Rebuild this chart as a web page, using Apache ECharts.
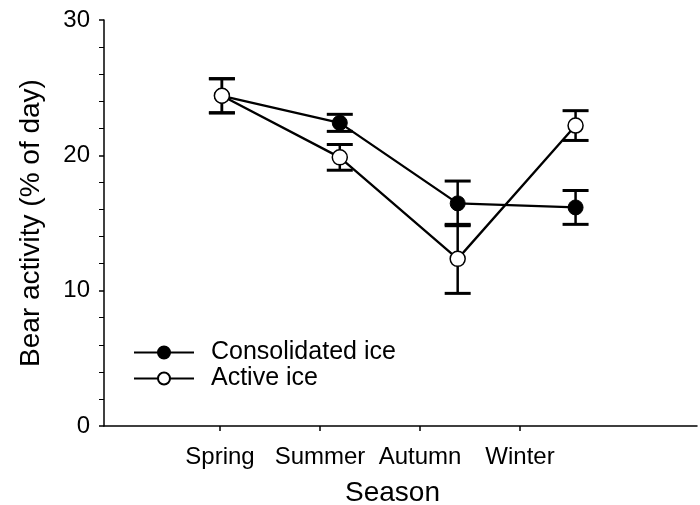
<!DOCTYPE html>
<html>
<head>
<meta charset="utf-8">
<script src="https://cdn.jsdelivr.net/npm/echarts@6/dist/echarts.min.js"></script>
<style>
  html, body { margin: 0; padding: 0; background: #fff; }
  #chart { width: 700px; height: 505px; }
</style>
</head>
<body>
<div id="chart"></div>
<script>
// seasons (x axis)
var seasons = ['Spring', 'Summer', 'Autumn', 'Winter'];
var xTicks = [1, 2, 3, 4];
// mean activity, % of day
var consolidated = [24.4, 22.4, 16.45, 16.15];
var consolidatedErr = [1.25, 0.63, 1.65, 1.25];
var active = [24.4, 19.85, 12.35, 22.2];
var activeErr = [1.27, 0.95, 2.55, 1.1];
var yTicks = [0, 10, 20, 30];

var font = 'Liberation Sans, Arial, sans-serif';

function pts(vals) {
  return vals.map(function (v, i) { return [xTicks[i], v]; });
}
function errData(vals, errs) {
  return vals.map(function (v, i) { return [xTicks[i], v - errs[i], v + errs[i]]; });
}

// vertical error bar with caps
function errBar(params, api) {
  var x = api.value(0);
  var lo = api.coord([x, api.value(1)]);
  var hi = api.coord([x, api.value(2)]);
  var w = 13;
  var cap = { stroke: '#000', lineWidth: 3 };
  return {
    type: 'group',
    children: [
      { type: 'line', shape: { x1: lo[0], y1: lo[1], x2: hi[0], y2: hi[1] }, style: { stroke: '#000', lineWidth: 2.5 } },
      { type: 'line', shape: { x1: lo[0] - w, y1: lo[1], x2: lo[0] + w, y2: lo[1] }, style: cap },
      { type: 'line', shape: { x1: hi[0] - w, y1: hi[1], x2: hi[0] + w, y2: hi[1] }, style: cap }
    ]
  };
}

var chart = echarts.init(document.getElementById('chart'));
var option = {
  animation: false,
  textStyle: { fontFamily: font, color: '#000' },
  grid: { left: 104, right: 3, top: 20, bottom: 79, containLabel: false, outerBoundsMode: 'none' },
  legend: {
    orient: 'vertical',
    left: 128,
    top: 335,
    itemWidth: 60,
    itemHeight: 15,
    itemGap: 1,
    textStyle: { fontFamily: font, fontSize: 25, lineHeight: 25, color: '#000', padding: [0, 0, 0, 12] },
    data: ['Consolidated ice', 'Active ice']
  },
  xAxis: [
    {
      // the drawn axis, with the season labels (ticks sit a bit off the points in the original)
      type: 'value',
      min: -0.16,
      max: 5.77,
      name: 'Season',
      nameLocation: 'middle',
      nameGap: 53,
      nameTextStyle: { fontFamily: font, fontSize: 28, color: '#000', padding: [0, 16, 0, 0] },
      axisLine: { show: true, onZero: false, lineStyle: { color: '#000', width: 1.5 } },
      axisTick: { show: true, length: 5, customValues: xTicks, lineStyle: { color: '#000', width: 1.5 } },
      axisLabel: {
        customValues: xTicks,
        margin: 19,
        fontSize: 24,
        color: '#000',
        fontFamily: font,
        formatter: function (v) { return seasons[xTicks.indexOf(v)] || ''; }
      },
      splitLine: { show: false }
    },
    {
      // hidden axis for the points
      type: 'value',
      min: 0,
      max: 5.03,
      show: false
    }
  ],
  yAxis: {
    type: 'value',
    min: yTicks[0],
    max: yTicks[yTicks.length - 1],
    interval: 10,
    name: 'Bear activity (% of day)',
    nameLocation: 'middle',
    nameGap: 59,
    nameTextStyle: { fontFamily: font, fontSize: 28, color: '#000' },
    axisLine: { show: true, onZero: false, lineStyle: { color: '#000', width: 1.5 } },
    axisTick: { show: true, length: 5, lineStyle: { color: '#000', width: 1.5 } },
    minorTick: { show: true, splitNumber: 5, length: 5, lineStyle: { color: '#000', width: 1 } },
    axisLabel: { fontSize: 24, color: '#000', fontFamily: font, margin: 14 },
    splitLine: { show: false }
  },
  series: [
    {
      name: 'cons err',
      type: 'custom',
      xAxisIndex: 1,
      renderItem: errBar,
      data: errData(consolidated, consolidatedErr),
      z: 1
    },
    {
      name: 'act err',
      type: 'custom',
      xAxisIndex: 1,
      renderItem: errBar,
      data: errData(active, activeErr),
      z: 1
    },
    {
      name: 'Consolidated ice',
      type: 'line',
      xAxisIndex: 1,
      data: pts(consolidated),
      symbol: 'circle',
      symbolSize: 15,
      lineStyle: { color: '#000', width: 2.3 },
      itemStyle: { color: '#000', borderColor: '#000', borderWidth: 1 },
      z: 3
    },
    {
      name: 'Active ice',
      type: 'line',
      xAxisIndex: 1,
      data: pts(active),
      symbol: 'circle',
      symbolSize: 15,
      lineStyle: { color: '#000', width: 2.3 },
      itemStyle: { color: '#fff', borderColor: '#000', borderWidth: 1.5 },
      z: 4
    }
  ]
};
chart.setOption(option);
</script>
</body>
</html>
